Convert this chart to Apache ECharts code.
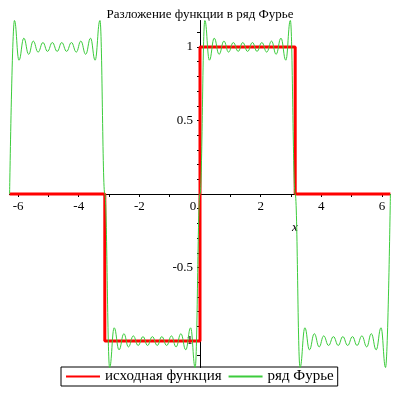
<!DOCTYPE html>
<html><head><meta charset="utf-8">
<script src="https://cdn.jsdelivr.net/npm/echarts@6/dist/echarts.min.js"></script>
<style>html,body{margin:0;padding:0;background:#fff}#c{width:400px;height:400px}</style>
</head><body><div id="c"></div>
<script>
const titleText = 'Разложение функции в ряд Фурье';
const seriesNames = ['исходная функция', 'ряд Фурье'];
const xTickValues = [-6,-5,-4,-3,-2,-1,0,1,2,3,4,5,6];
const xLabelValues = [-6,-4,-2,0,2,4,6];
const yTickValues = [-1.1,-1,-0.9,-0.8,-0.7,-0.6,-0.5,-0.4,-0.3,-0.2,-0.1,0.1,0.2,0.3,0.4,0.5,0.6,0.7,0.8,0.9,1,1.1];
const yLabelValues = [-1,-0.5,0.5,1];
const xName = 'x';

// исходная функция (red)
const redX = [-6.28,-3.14,-3.14,0,0,3.14,3.14,6.28];
const redY = [0,0,-1,-1,1,1,0,0];

// ряд Фурье (green): read extremes
const greenX = [
 -6.28,-6.12,-5.97,-5.81,-5.65,-5.50,-5.34,-5.18,-5.03,-4.87,-4.71,-4.56,-4.40,-4.24,-4.08,-3.93,-3.77,-3.61,-3.46,-3.30,-3.14,
 -2.98,-2.83,-2.67,-2.51,-2.36,-2.20,-2.04,-1.88,-1.73,-1.57,-1.41,-1.26,-1.10,-0.94,-0.79,-0.63,-0.47,-0.31,-0.16,0,
 0.16,0.31,0.47,0.63,0.79,0.94,1.10,1.26,1.41,1.57,1.73,1.88,2.04,2.20,2.36,2.51,2.67,2.83,2.98,3.14,
 3.30,3.46,3.61,3.77,3.93,4.08,4.24,4.40,4.56,4.71,4.87,5.03,5.18,5.34,5.50,5.65,5.81,5.97,6.12,6.28
];
const greenY = [
 0,1.18,0.91,1.06,0.95,1.04,0.965,1.03,0.97,1.03,0.97,1.03,0.97,1.03,0.965,1.04,0.95,1.06,0.91,1.18,0,
 -1.18,-0.91,-1.06,-0.95,-1.04,-0.965,-1.03,-0.97,-1.03,-0.97,-1.03,-0.97,-1.03,-0.965,-1.04,-0.95,-1.06,-0.91,-1.18,0,
 1.18,0.91,1.06,0.95,1.04,0.965,1.03,0.97,1.03,0.97,1.03,0.97,1.03,0.965,1.04,0.95,1.06,0.91,1.18,0,
 -1.18,-0.91,-1.06,-0.95,-1.04,-0.965,-1.03,-0.97,-1.03,-0.97,-1.03,-0.97,-1.03,-0.965,-1.04,-0.95,-1.06,-0.91,-1.18,0
];

const FONT = "'Liberation Serif','Times New Roman',serif";
const zip = (a,b) => a.map((v,i)=>[v,b[i]]);

const chart = echarts.init(document.getElementById('c'), null, {renderer:'canvas'});
chart.setOption({
  animation: false,
  backgroundColor: '#fff',
  title: {
    text: titleText, left: 'center', top: 3,
    textStyle: {fontFamily: FONT, fontSize: 13, fontWeight: 'normal', color: '#000'}
  },
  legend: {
    left: 61, top: 367, padding: [2,4,2,4], itemGap: 6, itemWidth: 34, itemHeight: 10,
    borderColor: '#000', borderWidth: 1,
    itemStyle: {opacity: 0},
    textStyle: {fontFamily: FONT, fontSize: 15, color: '#000'},
    data: seriesNames
  },
  grid: {left: 9.5, right: 9.5, top: 20.5, bottom: 32.5, outerBoundsMode: 'none', containLabel: false},
  xAxis: {
    type: 'value', min: -6.2832, max: 6.2832, position: 'bottom', offset: -173.5,
    name: xName, nameLocation: 'middle', nameGap: 27,
    nameTextStyle: {fontFamily: FONT, fontSize: 13, fontStyle: 'italic', color: '#000', padding: [0,0,0,190]},
    axisLine: {onZero: false, lineStyle: {color: '#000', width: 1}},
    axisTick: {show: true, length: 3, customValues: xTickValues, lineStyle: {color: '#000'}},
    axisLabel: {
      customValues: xLabelValues, margin: 6,
      fontFamily: FONT, fontSize: 13, color: '#000',
      formatter: v => v === 0 ? '{o|0}' : String(v),
      rich: {o: {fontFamily: FONT, fontSize: 13, color: '#000', padding: [0,14,0,0]}}
    },
    splitLine: {show: false}
  },
  yAxis: {
    type: 'value', min: -1.18, max: 1.18, position: 'left', offset: -190.5,
    axisLine: {onZero: false, lineStyle: {color: '#000', width: 1}},
    axisTick: {show: true, length: 3, customValues: yTickValues, lineStyle: {color: '#000'}},
    axisLabel: {customValues: yLabelValues, margin: 7, fontFamily: FONT, fontSize: 13, color: '#000'},
    splitLine: {show: false}
  },
  series: [
    {name: seriesNames[0], type: 'line', data: zip(redX, redY), symbol: 'none',
     lineStyle: {color: '#ff0000', width: 3}, itemStyle: {color: '#ff0000'}, z: 3},
    {name: seriesNames[1], type: 'line', data: zip(greenX, greenY), symbol: 'none',
     smooth: 0.45, smoothMonotone: 'x', clip: false,
     lineStyle: {color: '#3ccc3c', width: 1}, itemStyle: {color: '#3ccc3c'}, z: 4}
  ]
});
</script></body></html>
